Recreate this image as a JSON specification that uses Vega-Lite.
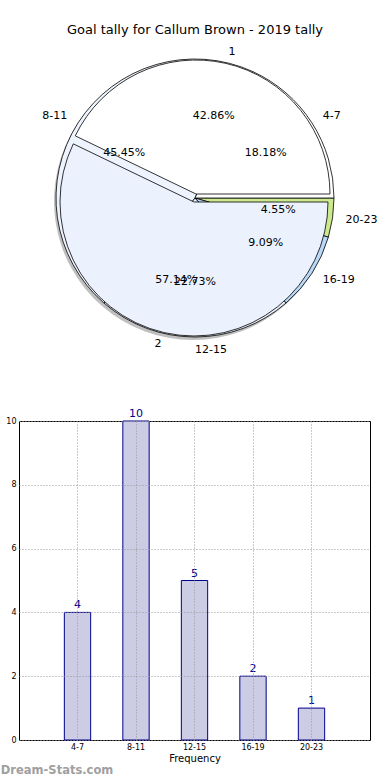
{
  "$schema": "https://vega.github.io/schema/vega-lite/v6.json",
  "padding": {"left": 0, "top": 24, "right": 0, "bottom": 0},
  "config": {"font": "DejaVu Sans", "view": {"stroke": null}},
  "datasets": {
    "outer": [
      {"label": "2", "share": 0.571429, "seq": 1},
      {"label": "1", "share": 0.428571, "seq": 2}
    ],
    "inner": [
      {"label": "20-23", "share": 0.045455, "seq": 1},
      {"label": "16-19", "share": 0.090909, "seq": 2},
      {"label": "12-15", "share": 0.227273, "seq": 3},
      {"label": "8-11", "share": 0.454545, "seq": 4},
      {"label": "4-7", "share": 0.181818, "seq": 5}
    ],
    "bars": [
      {"range": "4-7", "goals": 4},
      {"range": "8-11", "goals": 10},
      {"range": "12-15", "goals": 5},
      {"range": "16-19", "goals": 2},
      {"range": "20-23", "goals": 1}
    ]
  },
  "spacing": 52,
  "vconcat": [
    {
      "width": 352,
      "height": 312,
      "title": {"text": "Goal tally for Callum Brown - 2019 tally", "fontSize": 13, "fontWeight": "normal", "anchor": "middle", "offset": 5, "color": "black"},
      "layer": [
        {
          "data": {"name": "inner"},
          "transform": [{"stack": "share", "groupby": [], "sort": [{"field": "seq"}], "as": ["t0", "t1"]}],
          "mark": {"type": "arc", "outerRadius": 139, "fill": "#808080", "opacity": 0.5, "xOffset": -2, "yOffset": 3},
          "encoding": {
            "theta": {"field": "t0", "type": "quantitative", "scale": {"domain": [0, 1], "range": [1.5708, 7.854]}},
            "theta2": {"field": "t1"}
          }
        },
        {
          "data": {"name": "inner"},
          "transform": [{"stack": "share", "groupby": [], "sort": [{"field": "seq"}], "as": ["t0", "t1"]}],
          "mark": {"type": "arc", "outerRadius": 139, "stroke": "black", "strokeWidth": 0.8},
          "encoding": {
            "theta": {"field": "t0", "type": "quantitative", "scale": {"domain": [0, 1], "range": [1.5708, 7.854]}},
            "theta2": {"field": "t1"},
            "color": {"field": "label", "type": "nominal", "legend": null,
              "scale": {"domain": ["1", "2", "4-7", "8-11", "12-15", "16-19", "20-23"],
                        "range": ["#ffffff", "#ebf2fe", "#ffffff", "#eef4fd", "#e8eef8", "#b9d7f7", "#cde98f"]}}
          }
        },
        {
          "data": {"name": "outer"},
          "transform": [{"stack": "share", "groupby": [], "sort": [{"field": "seq"}], "as": ["t0", "t1"]}, {"filter": "datum.label == '2'"}],
          "mark": {"type": "arc", "outerRadius": 134, "stroke": "black", "strokeWidth": 0.8, "xOffset": -1, "yOffset": 4},
          "encoding": {
            "theta": {"field": "t0", "type": "quantitative", "scale": {"domain": [0, 1], "range": [1.5708, 7.854]}},
            "theta2": {"field": "t1"},
            "color": {"field": "label", "type": "nominal", "legend": null}
          }
        },
        {
          "data": {"name": "outer"},
          "transform": [{"stack": "share", "groupby": [], "sort": [{"field": "seq"}], "as": ["t0", "t1"]}, {"filter": "datum.label == '1'"}],
          "mark": {"type": "arc", "outerRadius": 134, "stroke": "black", "strokeWidth": 0.8, "xOffset": 1, "yOffset": -4},
          "encoding": {
            "theta": {"field": "t0", "type": "quantitative", "scale": {"domain": [0, 1], "range": [1.5708, 7.854]}},
            "theta2": {"field": "t1"},
            "color": {"field": "label", "type": "nominal", "legend": null}
          }
        },
        {
          "data": {"name": "outer"},
          "mark": {"type": "text", "radius": 150, "align": "left", "baseline": "middle", "fontSize": 11, "color": "black"},
          "encoding": {
            "theta": {"field": "share", "type": "quantitative", "stack": true, "scale": {"domain": [0, 1], "range": [1.5708, 7.854]}},
            "order": {"field": "seq"},
            "detail": {"field": "label"},
            "text": {"condition": {"test": "datum.label == '1'", "field": "label"}, "value": ""}
          }
        },
        {
          "data": {"name": "outer"},
          "mark": {"type": "text", "radius": 150, "align": "right", "baseline": "middle", "fontSize": 11, "color": "black"},
          "encoding": {
            "theta": {"field": "share", "type": "quantitative", "stack": true, "scale": {"domain": [0, 1], "range": [1.5708, 7.854]}},
            "order": {"field": "seq"},
            "detail": {"field": "label"},
            "text": {"condition": {"test": "datum.label == '2'", "field": "label"}, "value": ""}
          }
        },
        {
          "data": {"name": "outer"},
          "mark": {"type": "text", "radius": 84, "align": "center", "baseline": "middle", "fontSize": 11, "color": "black"},
          "encoding": {
            "theta": {"field": "share", "type": "quantitative", "stack": true, "scale": {"domain": [0, 1], "range": [1.5708, 7.854]}},
            "order": {"field": "seq"},
            "detail": {"field": "label"},
            "text": {"field": "share", "format": ".2%"}
          }
        },
        {
          "data": {"name": "inner"},
          "mark": {"type": "text", "radius": 152, "align": "left", "baseline": "middle", "fontSize": 11, "color": "black"},
          "encoding": {
            "theta": {"field": "share", "type": "quantitative", "stack": true, "scale": {"domain": [0, 1], "range": [1.5708, 7.854]}},
            "order": {"field": "seq"},
            "detail": {"field": "label"},
            "text": {"condition": {"test": "datum.label != '8-11'", "field": "label"}, "value": ""}
          }
        },
        {
          "data": {"name": "inner"},
          "mark": {"type": "text", "radius": 152, "align": "right", "baseline": "middle", "fontSize": 11, "color": "black"},
          "encoding": {
            "theta": {"field": "share", "type": "quantitative", "stack": true, "scale": {"domain": [0, 1], "range": [1.5708, 7.854]}},
            "order": {"field": "seq"},
            "detail": {"field": "label"},
            "text": {"condition": {"test": "datum.label == '8-11'", "field": "label"}, "value": ""}
          }
        },
        {
          "data": {"name": "inner"},
          "mark": {"type": "text", "radius": 84, "align": "center", "baseline": "middle", "fontSize": 11, "color": "black"},
          "encoding": {
            "theta": {"field": "share", "type": "quantitative", "stack": true, "scale": {"domain": [0, 1], "range": [1.5708, 7.854]}},
            "order": {"field": "seq"},
            "detail": {"field": "label"},
            "text": {"field": "share", "format": ".2%"}
          }
        }
      ]
    },
    {
      "width": 351,
      "height": 319,
      "data": {"name": "bars"},
      "view": {"stroke": "black", "strokeWidth": 1},
      "title": {"text": "Dream-Stats.com", "orient": "bottom", "anchor": "start", "fontSize": 11.5, "fontWeight": "bold", "color": "#a0a0a0", "dx": -5, "offset": 2},
      "encoding": {
        "x": {
          "field": "range", "type": "nominal", "sort": null,
          "scale": {"paddingInner": 0, "paddingOuter": 0.5},
          "axis": {"title": "Frequency", "labelAngle": 0, "labelFontSize": 8, "labelColor": "black", "titleFontSize": 10, "titleFontWeight": "normal", "titleColor": "black", "ticks": false, "labelPadding": 3, "titlePadding": 2, "grid": true, "gridDash": [1, 2], "gridColor": "#999999", "bandPosition": 0.5, "domain": false, "zindex": 1}
        },
        "y": {
          "field": "goals", "type": "quantitative",
          "scale": {"domain": [0, 10], "nice": false},
          "axis": {"title": null, "values": [0, 2, 4, 6, 8, 10], "labelFontSize": 8, "labelColor": "black", "ticks": false, "labelPadding": 3, "grid": true, "gridDash": [1, 2], "gridColor": "#999999", "domain": false, "zindex": 1}
        }
      },
      "layer": [
        {"mark": {"type": "bar", "width": {"band": 0.45}, "fill": "#ccccE5", "stroke": "#00008b", "strokeWidth": 1}},
        {"mark": {"type": "text", "dy": -2, "baseline": "bottom", "color": "#00008b", "fontSize": 11}, "encoding": {"text": {"field": "goals", "type": "quantitative"}}}
      ]
    }
  ]
}
